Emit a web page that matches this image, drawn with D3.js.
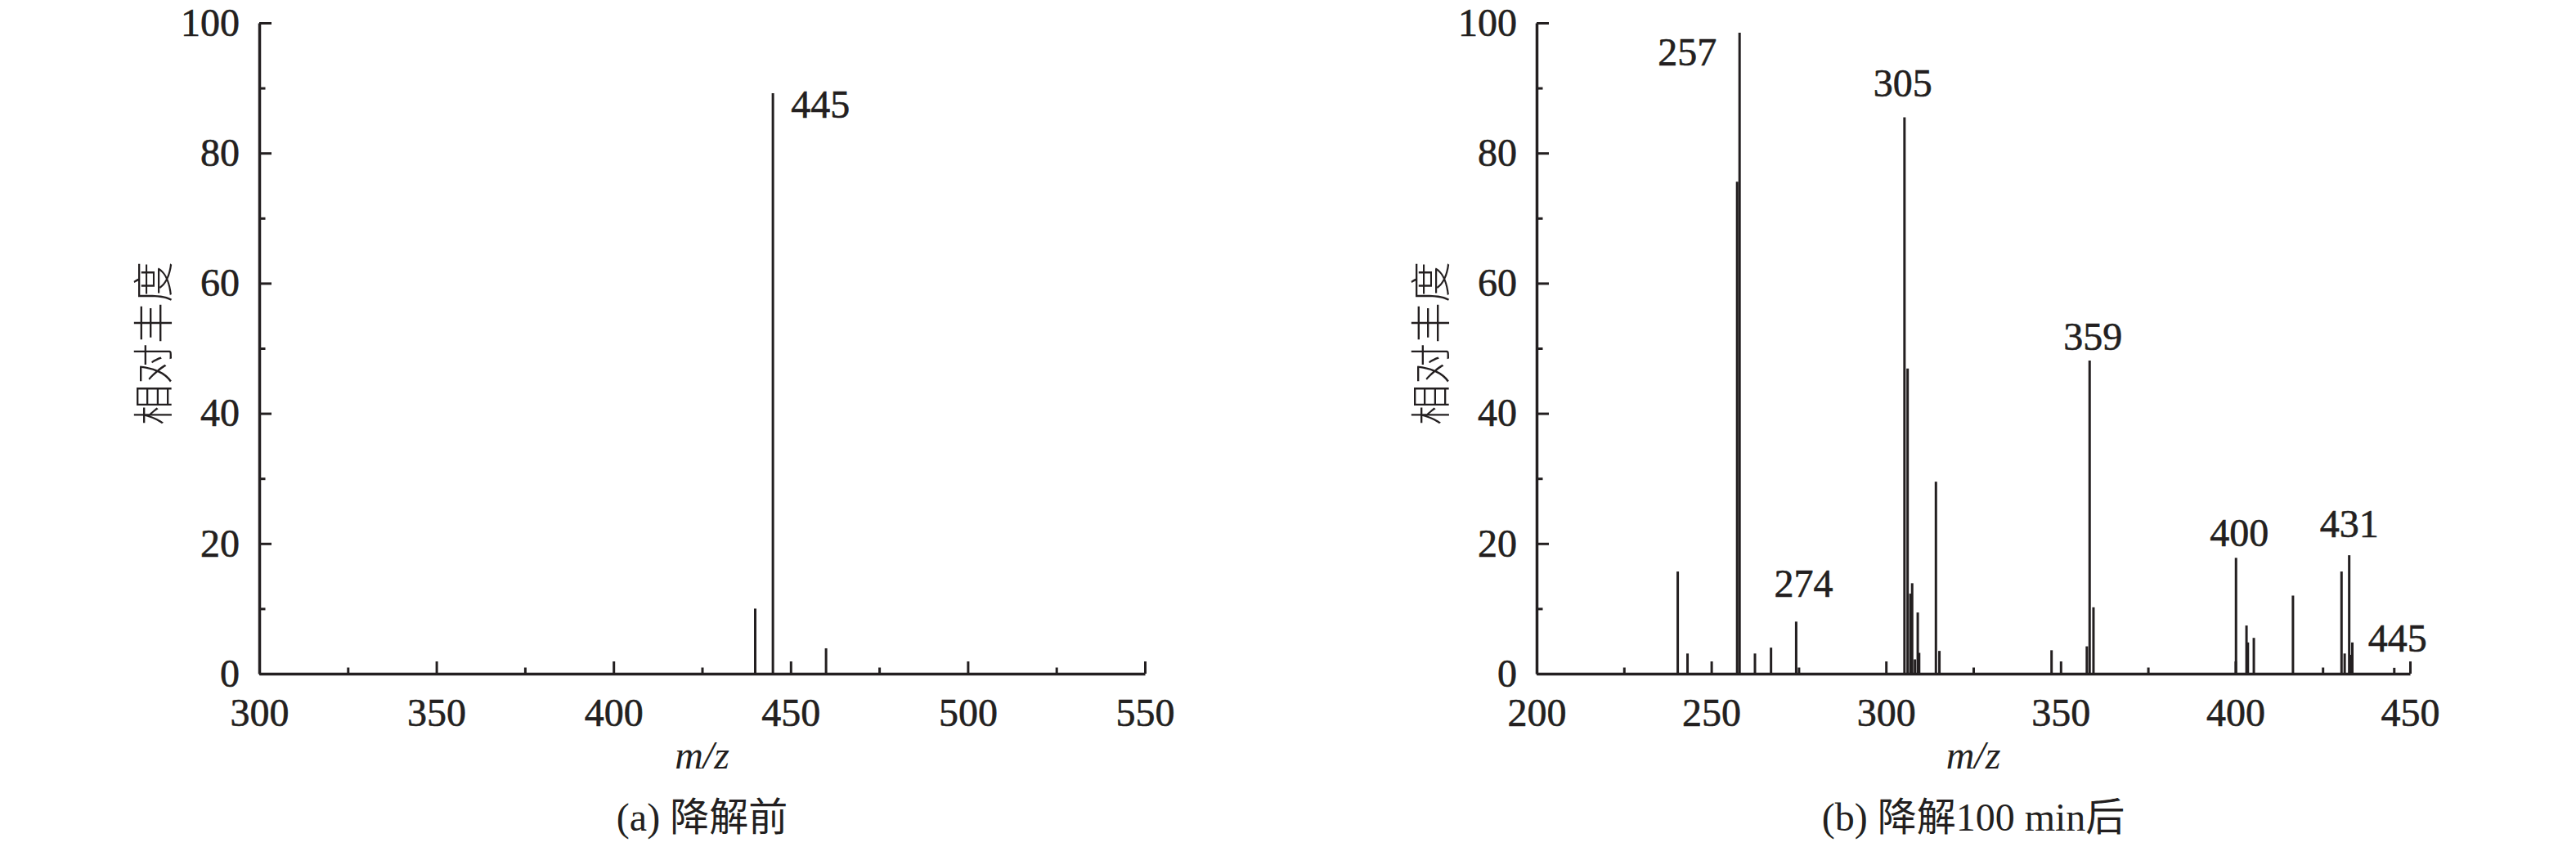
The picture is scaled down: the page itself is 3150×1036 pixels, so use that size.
<!DOCTYPE html>
<html>
<head>
<meta charset="utf-8">
<script src="https://cdn.jsdelivr.net/npm/d3@7"></script>
<style>
  body { margin: 0; background: #fff; }
</style>
</head>
<body>
<script>
// (a) before degradation
const mzA = [440, 445, 460];
const abundanceA = [10.0, 89.2, 3.9];
const labelsA = ["", "445", ""];
const xTicksA = [300, 350, 400, 450, 500, 550];
const xMinorA = [325, 375, 425, 475, 525];

// (b) after 100 min
const mzB = [240.4, 243.2, 257.4, 258.1, 262.5, 267.1, 274.3,
             305.3, 306.2, 307.0, 307.5, 308.3, 309.1, 309.5, 314.3, 315.3,
             347.4, 357.5, 358.3, 359.4,
             400.2, 403.2, 403.6, 405.3, 416.5,
             430.4, 431.3, 432.6, 433.0, 433.5, 445.5];
const abundanceB = [15.7, 3.1, 75.6, 98.5, 3.1, 4.0, 8.0,
                    85.5, 46.9, 12.3, 13.9, 2.2, 9.4, 3.2, 29.5, 3.5,
                    3.6, 4.2, 48.1, 10.2,
                    17.8, 7.4, 4.8, 5.5, 12.0,
                    15.7, 3.1, 18.2, 2.9, 4.8, 0.9];
const labelsB = ["", "", "", "257", "", "", "274",
                 "305", "", "", "", "", "", "", "", "",
                 "", "", "359", "",
                 "400", "", "", "", "",
                 "", "", "431", "", "", "445"];
const xTicksB = [200, 250, 300, 350, 400, 450];
const xMinorB = [225, 275, 325, 375, 425];

const yTicks = [0, 20, 40, 60, 80, 100];
const yMinor = [10, 30, 50, 70, 90];

const captions = ["(a) 降解前", "(b) 降解100 min后"];
const yTitle = "相对丰度";
const xTitle = "m/z";

function createChart() {
    const svgWidth = 3150, svgHeight = 1036;
    const ink = "#231f20";
    const numFont = "Liberation Serif, Times New Roman, serif";
    const cjkFont = "Liberation Serif, Times New Roman, Noto Sans CJK SC, serif";
    const top = 28, base = 824;

    // where each peak label sits relative to its peak top
    const labelPlace = {
        a: { "445": { anchor: "start", dx: 22, dy: 30 } },
        b: {
            "257": { anchor: "end", dx: -28, dy: 40 },
            "305": { anchor: "middle", dx: -2, dy: -25 },
            "274": { anchor: "middle", dx: 9, dy: -30 },
            "359": { anchor: "middle", dx: 4, dy: -13 },
            "400": { anchor: "middle", dx: 4, dy: -14 },
            "431": { anchor: "middle", dx: 0, dy: -22 },
            "445": { anchor: "middle", dx: 4, dy: -20 }
        }
    };

    const panels = [
        { key: "a", left: 317, right: 1400, mz: mzA, ab: abundanceA, labels: labelsA,
          ticks: xTicksA, minor: xMinorA, caption: captions[0] },
        { key: "b", left: 1879, right: 2947, mz: mzB, ab: abundanceB, labels: labelsB,
          ticks: xTicksB, minor: xMinorB, caption: captions[1] }
    ];

    const svg = d3.create("svg")
        .attr("viewBox", `0 0 ${svgWidth} ${svgHeight}`)
        .attr("width", svgWidth)
        .attr("height", svgHeight);

    svg.append("rect")
        .attr("width", svgWidth)
        .attr("height", svgHeight)
        .attr("fill", "#fff");

    const y = d3.scaleLinear().domain([0, 100]).range([base, top]);

    panels.forEach(p => {
        const x = d3.scaleLinear()
            .domain([p.ticks[0], p.ticks[p.ticks.length - 1]])
            .range([p.left, p.right]);

        const g = svg.append("g");
        const peaks = p.mz.map((m, i) => ({ m, v: p.ab[i], label: p.labels[i] }));

        // peaks
        g.selectAll("line.peak")
            .data(peaks)
            .join("line")
            .attr("class", "peak")
            .attr("x1", d => x(d.m))
            .attr("x2", d => x(d.m))
            .attr("y1", y(0))
            .attr("y2", d => y(d.v))
            .attr("stroke", ink)
            .attr("stroke-width", 3);

        // peak labels
        g.selectAll("text.peak-label")
            .data(peaks.filter(d => d.label))
            .join("text")
            .attr("class", "peak-label")
            .attr("x", d => x(d.m) + labelPlace[p.key][d.label].dx)
            .attr("y", d => y(d.v) + labelPlace[p.key][d.label].dy)
            .attr("text-anchor", d => labelPlace[p.key][d.label].anchor)
            .attr("font-family", numFont)
            .attr("font-size", 48)
            .attr("fill", ink)
            .attr("stroke", ink)
            .attr("stroke-width", 0.6)
            .text(d => d.label);

        // x axis, ticks pointing inward
        g.append("g")
            .attr("transform", `translate(0,${base})`)
            .call(d3.axisBottom(x).tickValues(p.ticks).tickSize(-15).tickSizeOuter(0)
                .tickPadding(30).tickFormat(d3.format("d")));
        g.append("g")
            .attr("transform", `translate(0,${base})`)
            .call(d3.axisBottom(x).tickValues(p.minor).tickSize(-7.5).tickFormat(""))
            .call(s => s.select(".domain").remove());

        // y axis
        g.append("g")
            .attr("transform", `translate(${p.left},0)`)
            .call(d3.axisLeft(y).tickValues(yTicks).tickSize(-15).tickSizeOuter(0)
                .tickPadding(24));
        g.append("g")
            .attr("transform", `translate(${p.left},0)`)
            .call(d3.axisLeft(y).tickValues(yMinor).tickSize(-7.5).tickFormat(""))
            .call(s => s.select(".domain").remove());

        g.selectAll(".domain").attr("stroke", ink).attr("stroke-width", 3.5);
        g.selectAll(".tick line").attr("stroke", ink).attr("stroke-width", 3);
        g.selectAll(".tick text")
            .attr("fill", ink)
            .attr("stroke", ink)
            .attr("stroke-width", 0.6)
            .attr("font-family", numFont)
            .attr("font-size", 48);

        const cx = (p.left + p.right) / 2;

        // axis titles
        g.append("text")
            .attr("x", cx)
            .attr("y", 940)
            .attr("text-anchor", "middle")
            .attr("font-family", numFont)
            .attr("font-style", "italic")
            .attr("font-size", 48)
            .attr("fill", ink)
            .text(xTitle);

        g.append("text")
            .attr("transform", `translate(${p.left - 133},420) rotate(-90)`)
            .attr("text-anchor", "middle")
            .attr("dominant-baseline", "central")
            .attr("font-family", "Noto Sans CJK SC, sans-serif")
            .attr("font-weight", 300)
            .attr("font-size", 50)
            .attr("fill", ink)
            .text(yTitle);

        // caption
        g.append("text")
            .attr("x", cx)
            .attr("y", 1016)
            .attr("text-anchor", "middle")
            .attr("font-family", cjkFont)
            .attr("font-size", 48)
            .attr("fill", ink)
            .text(p.caption);
    });

    document.body.append(svg.node());
}

createChart();
</script>
</body>
</html>
